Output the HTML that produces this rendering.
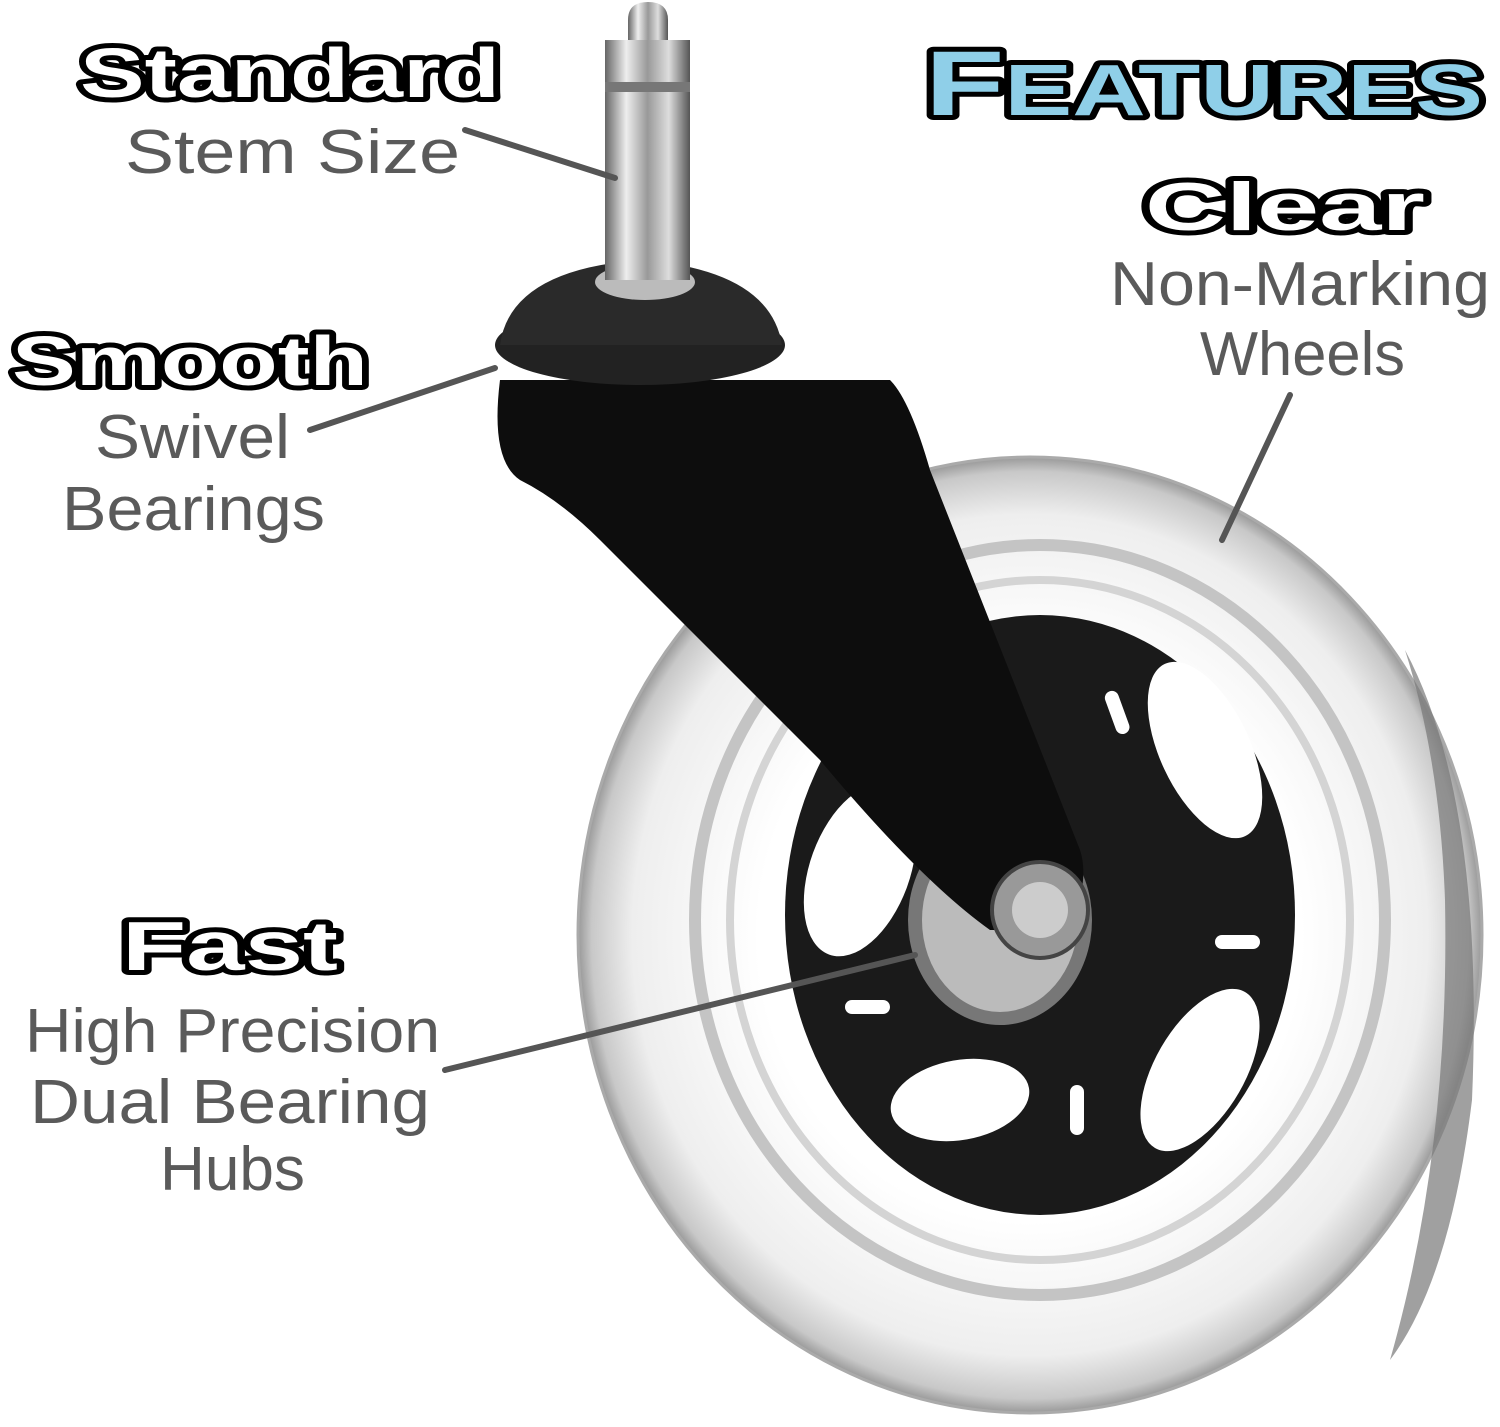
<!DOCTYPE html>
<html><head><meta charset="utf-8"><style>
html,body{margin:0;padding:0;background:#fff;}
svg{display:block}
.h{font-family:"Liberation Sans",sans-serif;font-weight:900;fill:#fff;stroke:#000;stroke-width:10;paint-order:stroke;stroke-linejoin:round}
.t{font-family:"Liberation Sans",sans-serif;fill:#5a5a5a;font-size:62px}
</style></head><body>
<svg width="1500" height="1427" viewBox="0 0 1500 1427">
<defs>
<linearGradient id="chrome" x1="0" x2="1">
<stop offset="0" stop-color="#666"/><stop offset="0.25" stop-color="#eee"/><stop offset="0.5" stop-color="#999"/><stop offset="0.75" stop-color="#ddd"/><stop offset="1" stop-color="#555"/></linearGradient>
<radialGradient id="tire" cx="0.5" cy="0.5" r="0.5">
<stop offset="0.6" stop-color="#fff"/><stop offset="0.88" stop-color="#eee"/><stop offset="0.97" stop-color="#c8c8c8"/><stop offset="1" stop-color="#999"/></radialGradient>
</defs>
<!-- wheel -->
<ellipse cx="1030" cy="935" rx="452" ry="478" fill="url(#tire)" stroke="#aaa" stroke-width="3"/>
<path d="M1405 650 Q1485 800 1472 1100 Q1450 1280 1390 1360 Q1450 1150 1445 900 Q1440 760 1405 650Z" fill="#777" opacity="0.7"/>
<ellipse cx="1040" cy="920" rx="345" ry="375" fill="none" stroke="#c4c4c4" stroke-width="12"/>
<ellipse cx="1040" cy="920" rx="310" ry="340" fill="none" stroke="#d4d4d4" stroke-width="8"/>
<ellipse cx="1040" cy="915" rx="255" ry="300" fill="#1a1a1a"/>
<g fill="#fff">
<ellipse cx="860" cy="870" rx="50" ry="90" transform="rotate(20 860 870)"/>
<ellipse cx="1205" cy="750" rx="45" ry="95" transform="rotate(-25 1205 750)"/>
<ellipse cx="1200" cy="1070" rx="45" ry="90" transform="rotate(30 1200 1070)"/>
<ellipse cx="960" cy="1100" rx="70" ry="40" transform="rotate(-10 960 1100)"/>
<rect x="1215" y="935" width="45" height="14" rx="7"/>
<rect x="1070" y="1085" width="14" height="50" rx="7"/>
<rect x="845" y="1000" width="45" height="14" rx="7"/>
<rect x="1110" y="690" width="14" height="45" rx="7" transform="rotate(-20 1117 712)"/>
</g>
<ellipse cx="1000" cy="920" rx="92" ry="105" fill="#777"/>
<ellipse cx="1000" cy="920" rx="78" ry="92" fill="#bbb"/>
<!-- bracket -->
<path d="M500 380 Q490 460 520 480 Q560 500 600 540 L820 760 Q920 880 990 930 L1070 930 Q1090 880 1080 850 L930 470 Q910 400 890 380 Z" fill="#0d0d0d"/>
<circle cx="1040" cy="910" r="48" fill="#999" stroke="#444" stroke-width="4"/>
<circle cx="1040" cy="910" r="28" fill="#ccc"/>
<!-- dome -->
<ellipse cx="640" cy="345" rx="145" ry="40" fill="#222"/>
<path d="M500 345 Q510 270 640 260 Q770 270 782 345 Z" fill="#2a2a2a"/>
<ellipse cx="645" cy="282" rx="50" ry="18" fill="#bbb"/>
<!-- stem -->
<rect x="605" y="40" width="85" height="240" fill="url(#chrome)"/>
<path d="M628 40 L628 20 Q628 2 648 2 Q668 2 668 20 L668 40Z" fill="url(#chrome)"/>
<rect x="605" y="82" width="85" height="10" fill="#777"/>
<!-- lines -->
<g stroke="#555" stroke-width="6" stroke-linecap="round">
<line x1="465" y1="130" x2="615" y2="178"/>
<line x1="310" y1="430" x2="495" y2="368"/>
<line x1="1222" y1="540" x2="1290" y2="395"/>
<line x1="445" y1="1070" x2="915" y2="955"/>
</g>
<!-- text -->
<text class="h" x="80" y="97" font-size="70" textLength="420" lengthAdjust="spacingAndGlyphs">Standard</text>
<text class="t" x="125" y="173" textLength="335" lengthAdjust="spacingAndGlyphs">Stem Size</text>
<text class="h" x="925" y="115" font-size="92" textLength="558" lengthAdjust="spacingAndGlyphs" style="fill:#8fcfe8">F<tspan font-size="72">EATURES</tspan></text>
<text class="h" x="1145" y="230" font-size="68" textLength="280" lengthAdjust="spacingAndGlyphs">Clear</text>
<text class="t" x="1110" y="305" textLength="380" lengthAdjust="spacingAndGlyphs">Non-Marking</text>
<text class="t" x="1200" y="375" textLength="205" lengthAdjust="spacingAndGlyphs">Wheels</text>
<text class="h" x="12" y="385" font-size="70" textLength="356" lengthAdjust="spacingAndGlyphs">Smooth</text>
<text class="t" x="95" y="458" textLength="195" lengthAdjust="spacingAndGlyphs">Swivel</text>
<text class="t" x="62" y="530" textLength="263" lengthAdjust="spacingAndGlyphs">Bearings</text>
<text class="h" x="122" y="970" font-size="70" textLength="216" lengthAdjust="spacingAndGlyphs">Fast</text>
<text class="t" x="25" y="1052" textLength="415" lengthAdjust="spacingAndGlyphs">High Precision</text>
<text class="t" x="30" y="1123" textLength="400" lengthAdjust="spacingAndGlyphs">Dual Bearing</text>
<text class="t" x="160" y="1190" textLength="145" lengthAdjust="spacingAndGlyphs">Hubs</text>
</svg>
</body></html>
